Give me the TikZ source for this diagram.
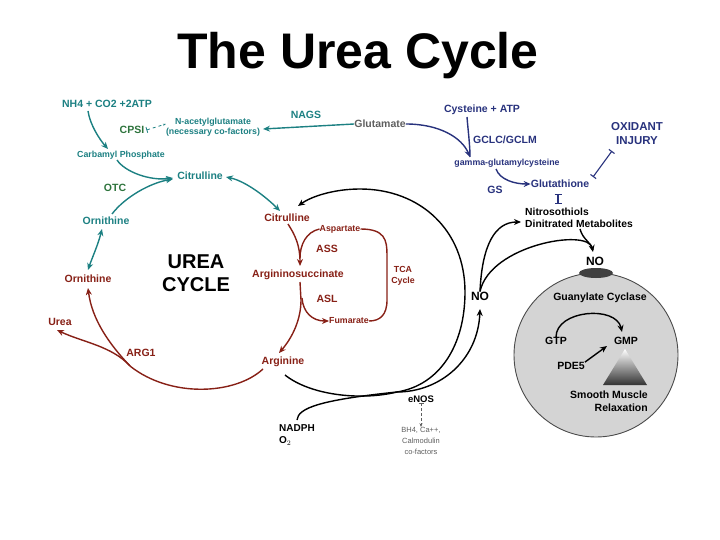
\documentclass[tikz,border=0pt]{standalone}
\usepackage{fontspec}
\setmainfont{Liberation Sans}
\usetikzlibrary{arrows.meta,shapes.geometric}
\definecolor{tl}{RGB}{28,128,130}
\definecolor{gn}{RGB}{45,115,60}
\definecolor{rd}{RGB}{135,32,22}
\definecolor{nv}{RGB}{40,50,125}
\definecolor{gy}{RGB}{95,95,95}
\begin{document}
\begin{tikzpicture}[x=1pt,y=-1pt,
  lab/.style={font=\bfseries\fontsize{10.5}{12.5}\selectfont, inner sep=0pt},
  sml/.style={font=\bfseries\fontsize{8.8}{10.5}\selectfont, inner sep=0pt},
  tip/.style={-{Stealth[length=7pt,width=6pt]}},
  tips/.style={{Stealth[length=7pt,width=6pt]}-{Stealth[length=7pt,width=6pt]}},
  con/.style={line width=1.4pt},
  inh/.style={line width=1.1pt,{Bar[width=7pt]}-{Bar[width=7pt]}}]
\useasboundingbox (0,0) rectangle (720,540);
% title
\node[font=\bfseries\fontsize{50}{52}\selectfont, inner sep=0pt] (title) at (358,56) {The Urea Cycle};
% teal / green top-left
\node[lab,tl] (nh4) at (107,104) {NH4 + CO2 +2ATP};
\node[lab,gn] (cpsi) at (132,130) {CPSI};
\node[sml,tl,align=center] (nag) at (213,127) {N-acetylglutamate\\(necessary co-factors)};
\node[lab,tl] (nags) at (306,115) {NAGS};
\node[lab,gy] (glu) at (380,124) {Glutamate};
\node[sml,tl] (carb) at (121,155) {Carbamyl Phosphate};
\node[lab,tl] (cit1) at (200,176) {Citrulline};
\node[lab,gn] (otc) at (115,188) {OTC};
\node[lab,tl] (orn1) at (106,221) {Ornithine};
% red cycle
\node[lab,rd] (cit2) at (287,218) {Citrulline};
\node[sml,rd] (asp) at (340,229) {Aspartate};
\node[lab,rd] (ass) at (327,249) {ASS};
\node[lab,rd] (aso) at (298,275) {Argininosuccinate};
\node[sml,rd,align=center] (tca) at (403,276) {TCA\\Cycle};
\node[lab,rd] (asl) at (327,299) {ASL};
\node[sml,rd] (fum) at (349,321) {Fumarate};
\node[lab,rd] (arg) at (283,362) {Arginine};
\node[lab,rd] (orn2) at (88,279) {Ornithine};
\node[lab,rd] (urea) at (60,322) {Urea};
\node[lab,rd] (arg1) at (141,353) {ARG1};
\node[font=\bfseries\fontsize{20}{23}\selectfont, inner sep=0pt, align=center] (uc) at (196,273) {UREA\\CYCLE};
% navy
\node[lab,nv] (cys) at (482,110) {Cysteine + ATP};
\node[lab,nv] (gclc) at (505,140) {GCLC/GCLM};
\node[sml,nv] (gam) at (507,163) {gamma-glutamylcysteine};
\node[lab,nv] (gsh) at (560,184) {Glutathione};
\node[lab,nv] (gs) at (495,190) {GS};
\node[font=\bfseries\fontsize{11.5}{14}\selectfont, inner sep=0pt, nv, align=center] (ox) at (637,134) {OXIDANT\\INJURY};
\node[font=\bfseries\fontsize{10.3}{12}\selectfont, inner sep=0pt, align=left, anchor=west] (nitro) at (525,218) {Nitrosothiols\\Dinitrated Metabolites};
% NO and cell
\node[font=\bfseries\fontsize{12}{14}\selectfont, inner sep=0pt] (no1) at (480,296) {NO};
\node[circle, draw=black!70, fill=black!17, line width=0.9pt, minimum size=164pt, inner sep=0pt] (cell) at (596,355) {};
\node[ellipse, fill=black!75, minimum width=34pt, minimum height=10pt, inner sep=0pt] (rec) at (596,273) {};
\node[font=\bfseries\fontsize{12}{14}\selectfont, inner sep=0pt] (no2) at (595,261) {NO};
\node[lab] (gc) at (600,298) {Guanylate Cyclase};
\node[lab] (gtp) at (556,341) {GTP};
\node[lab] (gmp) at (626,341) {GMP};
\node[lab] (pde) at (571,366) {PDE5};
\shade[top color=white, bottom color=black!80] (625,349) -- (647,385) -- (603,385) -- cycle;
\node[lab, align=right, anchor=north east] (smr) at (648,391) {Smooth Muscle\\Relaxation};
% eNOS
\node[font=\bfseries\fontsize{9.5}{11}\selectfont, inner sep=0pt] (enos) at (421,399) {eNOS};
\node[font=\fontsize{7.5}{11}\selectfont, inner sep=0pt, gy, align=center] (cof) at (421,441) {BH4, Ca++,\\Calmodulin\\co-factors};
\node[font=\bfseries\fontsize{10}{12.5}\selectfont, inner sep=0pt, align=left, anchor=north west] (nadph) at (279,424) {NADPH\\O$_2$};
\coordinate (J) at (397,392);
\coordinate (JR) at (130,366);
% ---- teal connectors
\draw[tl,con,tip] (88,111) .. controls (90,125) and (100,140) .. (108,149);
\draw[tl,con,tip] (117,160) .. controls (125,172) and (150,181) .. (173,178);
\draw[tl,con,tip] (112,214) .. controls (125,197) and (150,183) .. (173,179);
\draw[tl,con,tips] (226,177) .. controls (245,181) and (265,196) .. (280,211);
\draw[tl,con,tips] (102,229) .. controls (98,245) and (92,258) .. (88,270);
\draw[tl,con,tip] (glu.west) -- (263,129);
\draw[tl,line width=0.8pt,dashed,{Bar[width=6pt]}-{Stealth[length=3pt]}] (cpsi.east) ++(2,0) -- (nag.west |- 0,124);
% ---- red connectors
\draw[rd,con,tip] (288,224) .. controls (295,235) and (300,245) .. (300,266);
\draw[rd,con] (asp.west) .. controls (306,232) and (300,245) .. (300,258);
\draw[rd,con] (asp.east) .. controls (385,229) and (387,240) .. (387,255) -- (387,300) .. controls (387,315) and (380,321) .. (fum.east);
\draw[rd,con,tip] (300,282) -- (301,300) .. controls (301,320) and (292,338) .. (279,353);
\draw[rd,con,tip] (302,298) .. controls (303,312) and (312,321) .. (fum.west);
\draw[rd,con] (263,369) .. controls (235,395) and (170,398) .. (JR);
\draw[rd,con,tip] (JR) .. controls (110,345) and (92,320) .. (88,288);
\draw[rd,con,tip] (JR) .. controls (112,346) and (82,342) .. (57,330);
% ---- navy connectors
\draw[nv,con,tip] (glu.east) .. controls (440,124) and (462,138) .. (470,157);
\draw[nv,con] (467,117) .. controls (468,130) and (470,145) .. (470,157);
\draw[nv,con,tip] (496,169) .. controls (500,180) and (515,184) .. (gsh.west);
\draw[nv,inh] (558,194) -- (558,204);
\draw[nv,inh] (612,151) -- (593,177);
% ---- black connectors
\draw[con,tip] (J) .. controls (440,385) and (465,345) .. (465,292) .. controls (465,230) and (420,189) .. (360,189) .. controls (335,189) and (312,196) .. (298,206);
\draw[con,tip] (J) .. controls (440,392) and (478,360) .. (480,309);
\draw[con] (285,375) .. controls (310,395) and (360,401) .. (J);
\draw[con] (297,420) .. controls (298,408) and (320,400) .. (J);
\draw[con,tip] (no1.north) .. controls (482,245) and (495,222) .. (521,222);
\draw[con,tip] (no1.north) .. controls (490,245) and (588,228) .. (593,252);
\draw[con] (580,229) .. controls (583,240) and (591,242) .. (593,250);
\draw[con,tip] (gtp.north) .. controls (556,310) and (616,305) .. (622,332);
\draw[con,tip] (pde.north east) -- (607,346);
\draw[gy,line width=0.7pt,densely dashed,{Bar[width=5pt]}-{Stealth[length=4pt]}] (enos.south) -- (cof.north);
\end{tikzpicture}
\end{document}
